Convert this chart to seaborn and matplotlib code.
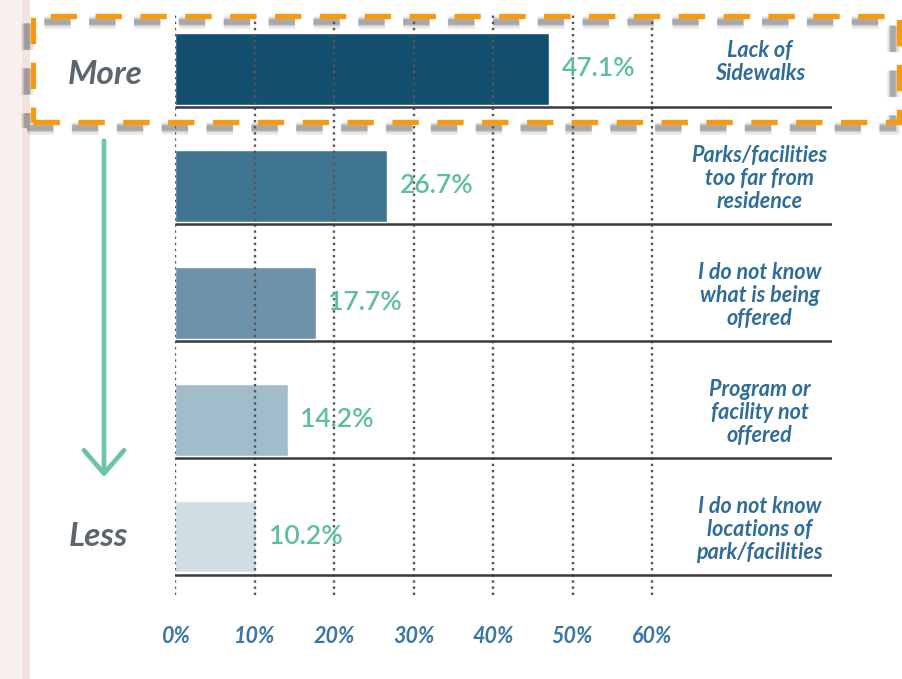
import matplotlib
matplotlib.use("Agg")
import matplotlib.pyplot as plt
import matplotlib.transforms as mtransforms
from matplotlib.patches import Rectangle, FancyArrowPatch
import seaborn as sns

# Data
categories = [
    "Lack of\nSidewalks",
    "Parks/facilities\ntoo far from\nresidence",
    "I do not know\nwhat is being\noffered",
    "Program or\nfacility not\noffered",
    "I do not know\nlocations of\npark/facilities",
]
values = [47.1, 26.7, 17.7, 14.2, 10.2]
bar_colors = ["#13506f", "#3f7591", "#6d93aa", "#a1bccb", "#d1dee6"]
tick_values = [0, 10, 20, 30, 40, 50, 60]
tick_labels = ["0%", "10%", "20%", "30%", "40%", "50%", "60%"]

sns.set_theme(style="white")
plt.rcParams['font.family'] = ['Lato', 'DejaVu Sans']

W, H = 903, 679
fig = plt.figure(figsize=(W / 100, H / 100), dpi=100)
fig.patch.set_facecolor("white")

# axes placed in pixel terms
x0, x1, ytop, ybot = 175, 832, 15, 595
ax = fig.add_axes([x0 / W, 1 - ybot / H, (x1 - x0) / W, (ybot - ytop) / H])

sns.barplot(x=values, y=categories, hue=categories, palette=bar_colors,
            legend=False, orient="h", width=0.615, saturation=1, ax=ax)

ax.set_xlim(0, (x1 - x0) / 7.95)
ax.set_ylim(4.5, -0.46)
ax.set_xticks(tick_values)
ax.set_xticklabels(tick_labels)
ax.set_yticks([])
ax.set_xlabel("")
ax.set_ylabel("")
for s in ax.spines.values():
    s.set_visible(False)
ax.tick_params(axis="x", length=0, pad=22)
for t in ax.get_xticklabels():
    t.set_color("#3a77a0")
    t.set_fontsize(15.5)
    t.set_fontstyle("italic")
    t.set_fontweight("bold")

# dotted grid on top of bars
ax.set_axisbelow(False)
ax.xaxis.grid(True, linestyle=(0, (1, 1.6)), color="#555555", linewidth=1.7)

# baselines under each bar
for i in range(len(categories)):
    ax.plot([0, ax.get_xlim()[1]], [i + 0.325, i + 0.325], color="#3a3a3a",
            linewidth=1.8, zorder=5, solid_capstyle="butt")

# value labels
for c in ax.containers:
    ax.bar_label(c, fmt="%.1f%%", padding=9, color="#5cbf9f", fontsize=19,
                 fontweight="semibold")

# right-side category labels
trans = mtransforms.blended_transform_factory(ax.transAxes, ax.transData)
for i, lab in enumerate(categories):
    ax.text(0.89, i - 0.06, lab, transform=trans, ha="center", va="center",
            color="#2f6d98", fontsize=15.5, fontstyle="italic", fontweight="bold",
            linespacing=1.12)

# left decorations
fig.add_artist(Rectangle((0, 0), 22 / W, 1, transform=fig.transFigure,
                         facecolor="#f9efec", edgecolor="none", zorder=0))
fig.add_artist(Rectangle((22 / W, 0), 8 / W, 1, transform=fig.transFigure,
                         facecolor="#f2e3df", edgecolor="none", zorder=0))

fig.text(105 / W, 1 - 75 / H, "More", ha="center", va="center", color="#5c6670",
         fontsize=24, fontstyle="italic", fontweight="bold")
fig.text(98 / W, 1 - 537 / H, "Less", ha="center", va="center", color="#5c6670",
         fontsize=24, fontstyle="italic", fontweight="bold")

arrow = FancyArrowPatch((104 / W, 1 - 138 / H), (104 / W, 1 - 480 / H),
                        transform=fig.transFigure, arrowstyle="->,head_length=0.7,head_width=0.6",
                        mutation_scale=24, color="#6cc3a8", linewidth=3.4)
fig.add_artist(arrow)

# highlight box with soft shadow
bx0, bx1, by0, by1 = 33, 899, 16, 122
for lw, a in [(9, 0.12), (6, 0.2), (4, 0.3)]:
    fig.add_artist(Rectangle(((bx0 - 6) / W, 1 - (by1 + 6) / H), (bx1 - bx0) / W, (by1 - by0) / H,
                             transform=fig.transFigure, fill=False, edgecolor="#555555",
                             alpha=a, linewidth=lw, linestyle=(0, (19 / lw, 13.3 / lw)), zorder=9))
fig.add_artist(Rectangle((bx0 / W, 1 - by1 / H), (bx1 - bx0) / W, (by1 - by0) / H,
                         transform=fig.transFigure, fill=False, edgecolor="#f79a12",
                         linewidth=3.8, linestyle=(0, (5, 3.5)), zorder=10))

fig.savefig("out.png", dpi=100)
